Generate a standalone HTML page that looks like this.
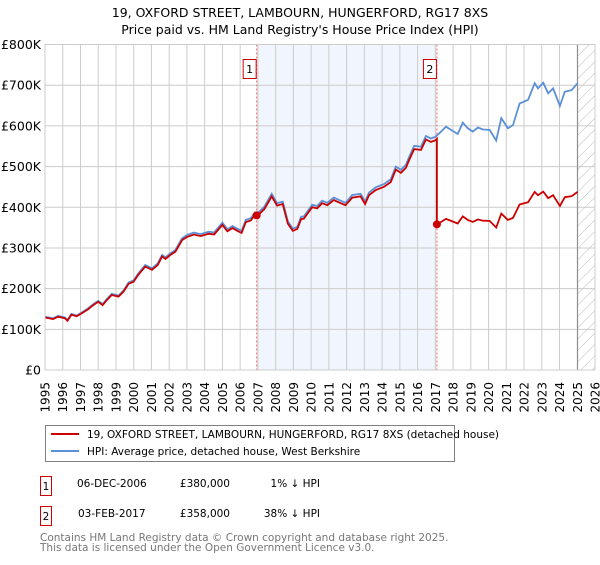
<!DOCTYPE html>
<html><head><meta charset="utf-8"><style>
body{margin:0;background:#fff;font-family:"Liberation Sans","DejaVu Sans",sans-serif;}
svg text{font-family:"DejaVu Sans","Liberation Sans",sans-serif;}
</style></head><body>
<svg id="c" width="600" height="560" viewBox="0 0 600 560" xmlns="http://www.w3.org/2000/svg">
<text x="300" y="17" text-anchor="middle" font-size="12.5" fill="#000">19, OXFORD STREET, LAMBOURN, HUNGERFORD, RG17 8XS</text>
<text x="300" y="34" text-anchor="middle" font-size="12.5" fill="#000">Price paid vs. HM Land Registry's House Price Index (HPI)</text>
<g id="plot"></g>
<g>
<rect x="45.5" y="425.5" width="409" height="36" fill="#fff" stroke="#808080"/>
<line x1="51" y1="434" x2="79" y2="434" stroke="#cc0000" stroke-width="2"/>
<text x="87" y="438" font-size="10.5">19, OXFORD STREET, LAMBOURN, HUNGERFORD, RG17 8XS (detached house)</text>
<line x1="51" y1="451" x2="79" y2="451" stroke="#5b8fd6" stroke-width="2"/>
<text x="87" y="455" font-size="10.5">HPI: Average price, detached house, West Berkshire</text>
</g>
<g font-size="10.5">
<rect x="40.5" y="476.5" width="11" height="19" fill="#fff" stroke="#cc0000"/><text x="46" y="490" text-anchor="middle">1</text>
<text x="77" y="487">06-DEC-2006</text><text x="230" y="487" text-anchor="end">£380,000</text><text x="320" y="487" text-anchor="end">1% ↓ HPI</text>
<rect x="40.5" y="506.5" width="11" height="19" fill="#fff" stroke="#cc0000"/><text x="46" y="520" text-anchor="middle">2</text>
<text x="78" y="517">03-FEB-2017</text><text x="230" y="517" text-anchor="end">£358,000</text><text x="320" y="517" text-anchor="end">38% ↓ HPI</text>
</g>
<text x="40" y="541" font-size="10.5" fill="#777">Contains HM Land Registry data © Crown copyright and database right 2025.</text>
<text x="40" y="551" font-size="10.5" fill="#777">This data is licensed under the Open Government Licence v3.0.</text>
</svg>
<script>
const hpiYears=[1995.0,1995.45,1995.74,1996.12,1996.27,1996.49,1996.78,1997.06,1997.44,1997.72,1998.0,1998.25,1998.48,1998.76,1999.14,1999.42,1999.71,1999.99,2000.27,2000.65,2001.03,2001.35,2001.6,2001.79,2002.07,2002.35,2002.73,2003.01,2003.39,2003.77,2004.24,2004.53,2005.0,2005.28,2005.57,2005.85,2006.08,2006.32,2006.6,2006.83,2006.98,2007.36,2007.78,2008.08,2008.4,2008.69,2008.97,2009.22,2009.44,2009.58,2010.06,2010.34,2010.62,2010.91,2011.28,2011.66,2011.94,2012.32,2012.79,2013.04,2013.26,2013.64,2014.11,2014.49,2014.77,2015.06,2015.34,2015.53,2015.81,2016.19,2016.47,2016.75,2017.0,2017.23,2017.6,2017.89,2018.26,2018.55,2018.83,2019.11,2019.4,2019.68,2020.06,2020.43,2020.72,2021.09,2021.38,2021.75,2022.23,2022.6,2022.79,2023.08,2023.36,2023.64,2024.02,2024.3,2024.68,2025.02];
const hpiValues=[131,127,133,129,123,138,134,141,152,162,170,162,174,187,183,195,215,220,238,258,250,262,283,277,287,295,324,332,338,334,340,338,362,346,354,347,342,369,373,387,385,401,433,410,414,365,347,352,377,377,406,403,416,411,424,416,411,430,433,414,436,449,457,469,500,492,504,524,551,549,575,569,573,582,598,590,580,608,594,586,596,591,590,564,619,594,602,655,664,705,692,706,680,692,649,684,688,705];
const saleYears=[2006.93,2017.09];
const salePrices=[380,358];
const saleLabels=["1","2"];
const yTicks=[0,100,200,300,400,500,600,700,800];
const yTickLabels=["£0","£100K","£200K","£300K","£400K","£500K","£600K","£700K","£800K"];
const xTicks=[1995,1996,1997,1998,1999,2000,2001,2002,2003,2004,2005,2006,2007,2008,2009,2010,2011,2012,2013,2014,2015,2016,2017,2018,2019,2020,2021,2022,2023,2024,2025,2026];
const dataEnd=2025.02;

const L=45,R=595,T=44.5,B=370,X0=1995,X1=2026,YMAX=800;
const xs=v=>L+(v-X0)/(X1-X0)*(R-L);
const ys=v=>B-v/YMAX*(B-T);
const NS="http://www.w3.org/2000/svg";
const g=document.getElementById('plot');
function mk(tag,attrs,parent){const e=document.createElementNS(NS,tag);for(const k in attrs)e.setAttribute(k,attrs[k]);(parent||g).appendChild(e);return e;}
function hpiAt(t){for(let i=1;i<hpiYears.length;i++){if(t<=hpiYears[i]){const f=(t-hpiYears[i-1])/(hpiYears[i]-hpiYears[i-1]);return hpiValues[i-1]+f*(hpiValues[i]-hpiValues[i-1]);}}return hpiValues[hpiValues.length-1];}

let shade=mk('rect',{x:xs(saleYears[0]),y:T,width:xs(saleYears[1])-xs(saleYears[0]),height:B-T,fill:'#eef3fd',opacity:0.8});


const defs=mk('defs',{});
const pat=mk('pattern',{id:'hatch',width:8,height:8,patternUnits:'userSpaceOnUse',patternTransform:'rotate(45)'},defs);
mk('line',{x1:0,y1:0,x2:0,y2:8,stroke:'#bbb','stroke-width':1},pat);
let hatch=mk('rect',{x:xs(dataEnd),y:T,width:R-xs(dataEnd),height:B-T,fill:'url(#hatch)'});



yTicks.forEach((v,i)=>{
  let ln=mk('line',{x1:L,x2:R,y1:ys(v),y2:ys(v),stroke:'#cccccc','stroke-width':1});
  
  
  let t=mk('text',{x:L-4,y:ys(v)+4.5,'text-anchor':'end','font-size':12.5,fill:'#000'});
  t.textContent=yTickLabels[i];
  
  
});
xTicks.forEach(v=>{
  let ln=mk('line',{x1:xs(v),x2:xs(v),y1:T,y2:B,stroke:'#cccccc','stroke-width':1});
  
  
  let t=mk('text',{x:0,y:0,'text-anchor':'end','font-size':12,fill:'#000',transform:`translate(${xs(v)+4.5},${B+12}) rotate(-90)`});
  t.textContent=String(v);
  
  
});
let eline=mk('line',{x1:xs(dataEnd),x2:xs(dataEnd),y1:T,y2:B,stroke:'#888','stroke-width':1});



saleYears.forEach((s,i)=>{
  let ln=mk('line',{x1:xs(s),x2:xs(s),y1:T,y2:B,stroke:'#ff6666','stroke-width':1,'stroke-dasharray':'2,2'});
  
  
});

// HPI line
let hp=hpiYears.map((t,i)=>xs(t).toFixed(1)+','+ys(hpiValues[i]).toFixed(1)).join(' ');
let hl=mk('polyline',{points:hp,fill:'none',stroke:'#5b8fd6','stroke-width':1.8});



// Property line: HPI scaled from latest sale
const r1=salePrices[0]/hpiAt(saleYears[0]);
const r2=salePrices[1]/hpiAt(saleYears[1]);
let pts=[];
hpiYears.forEach((t,i)=>{
  if(t<saleYears[1]) pts.push([t,hpiValues[i]*r1]);
});
pts.push([saleYears[1],hpiAt(saleYears[1])*r1]);
pts.push([saleYears[1],salePrices[1]]);
hpiYears.forEach((t,i)=>{ if(t>saleYears[1]) pts.push([t,hpiValues[i]*r2]); });
let pl=mk('polyline',{points:pts.map(p=>xs(p[0]).toFixed(1)+','+ys(p[1]).toFixed(1)).join(' '),fill:'none',stroke:'#cc0000','stroke-width':1.8});



saleYears.forEach((s,i)=>{
  let c=mk('circle',{cx:xs(s),cy:ys(salePrices[i]),r:4,fill:'#cc0000'});
  
  
  let bx=mk('rect',{x:xs(s)-13.5,y:59.5,width:13,height:19,fill:'#fff',stroke:'#cc0000'});
  
  
  let t=mk('text',{x:xs(s)-7,y:73,'text-anchor':'middle','font-size':11,fill:'#000'});
  t.textContent=saleLabels[i];
  
  
});
let frame=mk('rect',{x:L,y:T,width:R-L,height:B-T,fill:'none',stroke:'#cccccc'});


</script>
</body></html>
